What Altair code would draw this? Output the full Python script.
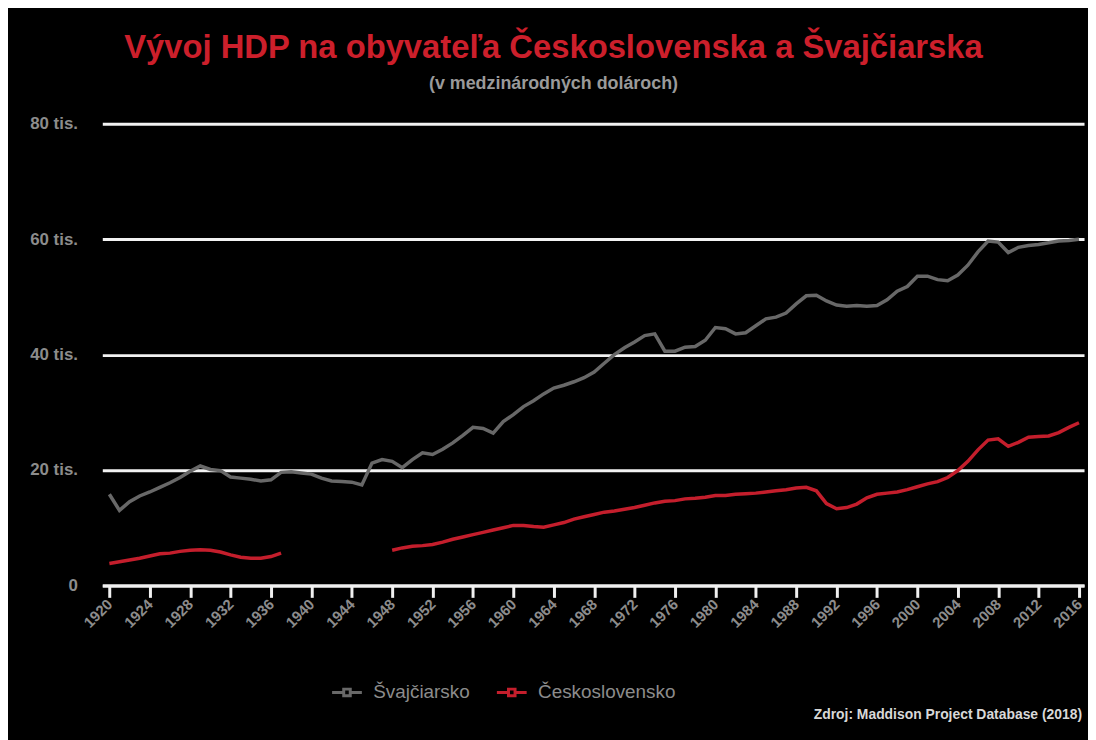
import altair as alt
import pandas as pd

years = list(range(1920, 2017))

swiss = [15.8, 13.0, 14.5, 15.5, 16.2, 17.0, 17.8, 18.7, 19.8, 20.7,
         20.1, 19.9, 18.8, 18.6, 18.4, 18.1, 18.3, 19.6, 19.7, 19.5,
         19.3, 18.6, 18.1, 18.0, 17.9, 17.4, 21.2, 21.8, 21.5, 20.4,
         21.8, 23.0, 22.7, 23.6, 24.7, 26.0, 27.4, 27.2, 26.4, 28.4,
         29.6, 31.0, 32.0, 33.2, 34.2, 34.7, 35.3, 36.0, 37.0, 38.5,
         40.0, 41.2, 42.2, 43.3, 43.6, 40.6, 40.6, 41.3, 41.4, 42.5,
         44.7, 44.5, 43.6, 43.8, 45.0, 46.2, 46.5, 47.2, 48.8, 50.2,
         50.3, 49.3, 48.6, 48.4, 48.5, 48.4, 48.5, 49.5, 51.0, 51.8,
         53.6, 53.6, 53.0, 52.8, 53.8, 55.5, 57.8, 59.7, 59.5, 57.7,
         58.6, 58.9, 59.1, 59.4, 59.7, 59.8, 60.0]

czech = [3.8, 4.1, 4.4, 4.7, 5.1, 5.5, 5.6, 5.9, 6.1, 6.2,
         6.1, 5.8, 5.3, 4.9, 4.7, 4.7, 5.0, 5.6, None, None,
         None, None, None, None, None, None, None, None, 6.1, 6.5,
         6.8, 6.9, 7.1, 7.5, 8.0, 8.4, 8.8, 9.2, 9.6, 10.0,
         10.4, 10.4, 10.2, 10.1, 10.5, 10.9, 11.5, 11.9, 12.3, 12.7,
         12.9, 13.2, 13.5, 13.9, 14.3, 14.6, 14.7, 15.0, 15.1, 15.3,
         15.6, 15.6, 15.8, 15.9, 16.0, 16.2, 16.4, 16.6, 16.9, 17.0,
         16.4, 14.2, 13.3, 13.5, 14.1, 15.2, 15.8, 16.0, 16.2, 16.6,
         17.1, 17.6, 18.0, 18.7, 19.9, 21.5, 23.5, 25.2, 25.4, 24.1,
         24.8, 25.7, 25.8, 25.9, 26.5, 27.4, 28.2]

series_names = ["Švajčiarsko", "Československo"]
series_colors = ["#686868", "#c41e2c"]
x_ticks = list(range(1920, 2017, 4))
y_ticks = [0, 20000, 40000, 60000, 80000]

title_text = "Vývoj HDP na obyvateľa Československa a Švajčiarska"
subtitle_text = "(v medzinárodných dolároch)"
source_text = "Zdroj: Maddison Project Database (2018)"

rows = []
for y, v in zip(years, swiss):
    rows.append({"rok": y, "hdp": v * 1000, "krajina": series_names[0], "seg": "s"})
for y, v in zip(years, czech):
    if v is not None:
        rows.append({"rok": y, "hdp": v * 1000, "krajina": series_names[1],
                     "seg": "c1" if y < 1940 else "c2"})
df = pd.DataFrame(rows)

legend_symbol = "M-1,0H-0.25M0.25,0H1M-0.22,-0.22H0.22V0.22H-0.22Z"

lines = alt.Chart(df).mark_line(strokeWidth=3.5).encode(
    x=alt.X("rok:Q",
            scale=alt.Scale(domain=[1919.3, 2016.5], nice=False, zero=False),
            axis=alt.Axis(values=x_ticks, format="d", title=None, grid=False,
                          domainColor="#f0f0f0", domainWidth=3,
                          tickColor="#f0f0f0", tickWidth=3, tickSize=12,
                          labelAngle=315, labelAlign="right", labelBaseline="middle",
                          labelColor="#8c8c8c", labelFontSize=15, labelFontWeight="bold",
                          labelPadding=4, labelOverlap=False)),
    y=alt.Y("hdp:Q",
            scale=alt.Scale(domain=[0, 80000], nice=False),
            axis=alt.Axis(values=y_ticks, title=None, domain=False, ticks=False,
                          gridColor="#f2f2f2", gridWidth=3,
                          labelExpr="datum.value == 0 ? '0' : (datum.value / 1000) + ' tis.'",
                          labelColor="#8c8c8c", labelFontSize=17, labelFontWeight="bold",
                          labelPadding=25)),
    color=alt.Color("krajina:N",
                    scale=alt.Scale(domain=series_names, range=series_colors),
                    legend=alt.Legend(title=None, orient="none", direction="horizontal",
                                      legendX=230, legendY=556,
                                      symbolType=legend_symbol, symbolSize=900,
                                      symbolStrokeWidth=3,
                                      labelColor="#8c8c8c", labelFontSize=19,
                                      labelOffset=10, columnPadding=20)),
    detail="seg:N",
)

source = alt.Chart(pd.DataFrame({"t": [source_text]})).mark_text(
    align="right", baseline="middle", fontSize=14, fontWeight="bold", color="#d8d8d8"
).encode(text="t:N", x=alt.value(987), y=alt.value(596))

chart = alt.layer(lines, source).properties(
    width=989, height=465,
    autosize=alt.AutoSizeParams(type="none"),
    padding={"left": 95, "top": 114, "right": 4, "bottom": 153},
    background="#000000",
    title=alt.TitleParams(title_text, subtitle=subtitle_text,
                          color="#cc1f2b", fontSize=33, fontWeight="bold",
                          subtitleColor="#9a9a9a", subtitleFontSize=18,
                          subtitleFontWeight="bold",
                          subtitlePadding=10, anchor="middle", dx=-40, offset=22),
).configure(font="Liberation Sans").configure_view(stroke=None)

chart.save("out.html", embed_options={"renderer": "svg", "actions": False})
